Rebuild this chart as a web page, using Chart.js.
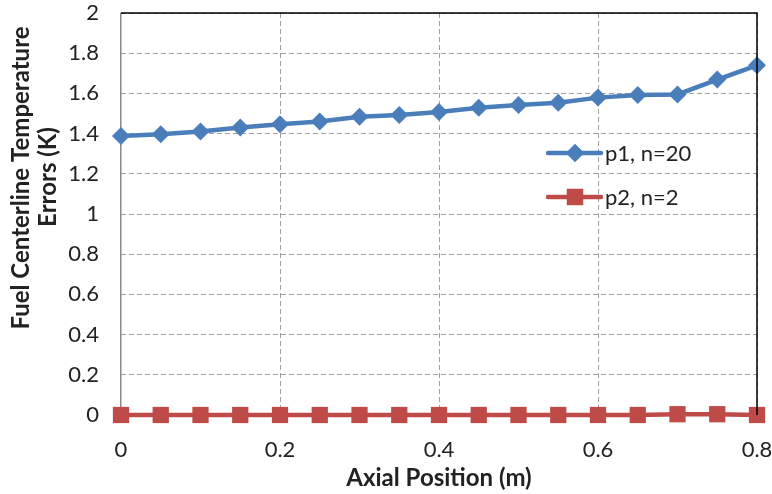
<!DOCTYPE html>
<html>
<head>
<meta charset="utf-8">
<script src="https://cdn.jsdelivr.net/npm/chart.js@4"></script>
<style>
  body { margin: 0; background: #fff; }
  #wrap { width: 772px; height: 494px; }
</style>
</head>
<body>
<div id="wrap"><canvas id="chart" width="772" height="494"></canvas></div>
<script>
// dane
var positions = [0, 0.05, 0.1, 0.15, 0.2, 0.25, 0.3, 0.35, 0.4, 0.45, 0.5, 0.55, 0.6, 0.65, 0.7, 0.75, 0.8];
var p1Errors = [1.388, 1.397, 1.41, 1.43, 1.446, 1.46, 1.484, 1.493, 1.507, 1.529, 1.542, 1.554, 1.579, 1.592, 1.595, 1.669, 1.74];
var p2Errors = [0, 0, 0, 0, 0, 0, 0, 0, 0, 0, 0, 0, 0, 0, 0.004, 0.004, 0];
var seriesLabels = ["p1, n=20", "p2, n=2"];
var xTitle = "Axial Position (m)";
var yTitle = ["Fuel Centerline Temperature", "Errors (K)"];

var BLUE = "#4a7ebb";
var RED = "#be4b48";
var FONT = "Lato, 'Open Sans', sans-serif";
var DASH = [5, 3];

function toPoints(xs, ys) {
  return xs.map(function (x, i) { return { x: x, y: ys[i] }; });
}

function fmt(v) {
  return String(Number(v.toFixed(1)));
}

// bez dodatkowego miejsca na etykiety na krawedziach
function fixPadding(scale) {
  scale.paddingLeft = 0;
  scale.paddingRight = 0;
  scale.paddingTop = 0;
  scale.paddingBottom = 0;
}

// tytuly osi i legenda rysowane recznie (jak w Excelu)
var extrasPlugin = {
  id: "extras",
  afterDraw: function (chart) {
    var ctx = chart.ctx;
    var area = chart.chartArea;
    ctx.save();
    // ramka: gora i prawa strona czarna
    ctx.strokeStyle = "#000";
    ctx.lineWidth = 1.5;
    ctx.beginPath();
    ctx.moveTo(area.left, area.top);
    ctx.lineTo(area.right, area.top);
    ctx.lineTo(area.right, area.bottom);
    ctx.stroke();

    ctx.fillStyle = "#222";
    ctx.font = "bold 24px " + FONT;
    ctx.textAlign = "center";
    ctx.textBaseline = "middle";
    ctx.fillText(xTitle, (area.left + area.right) / 2, 478);

    ctx.save();
    ctx.translate(21, 178);
    ctx.rotate(-Math.PI / 2);
    ctx.fillText(yTitle[0], 0, 0);
    ctx.restore();
    ctx.save();
    ctx.translate(48, 177);
    ctx.rotate(-Math.PI / 2);
    ctx.fillText(yTitle[1], 0, 0);
    ctx.restore();

    // legenda
    var items = [
      { label: seriesLabels[0], color: BLUE, style: "rectRot", r: 9, y: 153 },
      { label: seriesLabels[1], color: RED, style: "rect", r: 11.5, y: 197 }
    ];
    items.forEach(function (it) {
      ctx.strokeStyle = it.color;
      ctx.lineWidth = 4.5;
      ctx.lineCap = "round";
      ctx.beginPath();
      ctx.moveTo(548, it.y);
      ctx.lineTo(601, it.y);
      ctx.stroke();
      ctx.fillStyle = it.color;
      Chart.helpers.drawPoint(ctx, { pointStyle: it.style, radius: it.r, borderWidth: 0 }, 575, it.y);
      ctx.fill();
      ctx.fillStyle = "#222";
      ctx.font = "22px " + FONT;
      ctx.textAlign = "left";
      ctx.fillText(it.label, 605, it.y + 1);
    });
    ctx.restore();
  }
};

var ctx = document.getElementById("chart").getContext("2d");
var chart = new Chart(ctx, {
  type: "line",
  data: {
    datasets: [
      {
        label: seriesLabels[0],
        data: toPoints(positions, p1Errors),
        borderColor: BLUE,
        backgroundColor: BLUE,
        borderWidth: 4.5,
        pointStyle: "rectRot",
        pointRadius: 9,
        pointBorderWidth: 0,
        clip: false
      },
      {
        label: seriesLabels[1],
        data: toPoints(positions, p2Errors),
        borderColor: RED,
        backgroundColor: RED,
        borderWidth: 4.5,
        pointStyle: "rect",
        pointRadius: 11.5,
        pointBorderWidth: 0,
        clip: false
      }
    ]
  },
  options: {
    responsive: false,
    animation: false,
    layout: { padding: { top: 13, right: 15, left: 0, bottom: 0 }, autoPadding: false },
    plugins: { legend: { display: false }, tooltip: { enabled: false } },
    scales: {
      x: {
        type: "linear",
        min: 0,
        max: 0.8,
        ticks: {
          stepSize: 0.2, color: "#222", font: { family: FONT, size: 22 }, padding: 22,
          callback: function (v) { return fmt(v); }
        },
        grid: {
          drawTicks: false,
          color: function (c) { return c.index === 0 ? "#888" : "#a0a0a0"; },
          lineWidth: function (c) { return c.index === 0 ? 1.5 : 1; }
        },
        border: {
          display: false,
          dash: function (c) { return c.index === 0 ? [] : DASH; }
        },
        afterFit: function (scale) { scale.height = 79; fixPadding(scale); }
      },
      y: {
        min: 0,
        max: 2,
        ticks: {
          stepSize: 0.2, color: "#222", font: { family: FONT, size: 22 }, padding: 22,
          callback: function (v) { return fmt(v); }
        },
        grid: { drawTicks: false, color: "#a0a0a0" },
        border: { display: false, dash: DASH },
        afterFit: function (scale) { scale.width = 121; fixPadding(scale); }
      }
    }
  },
  plugins: [extrasPlugin]
});
</script>
</body>
</html>
